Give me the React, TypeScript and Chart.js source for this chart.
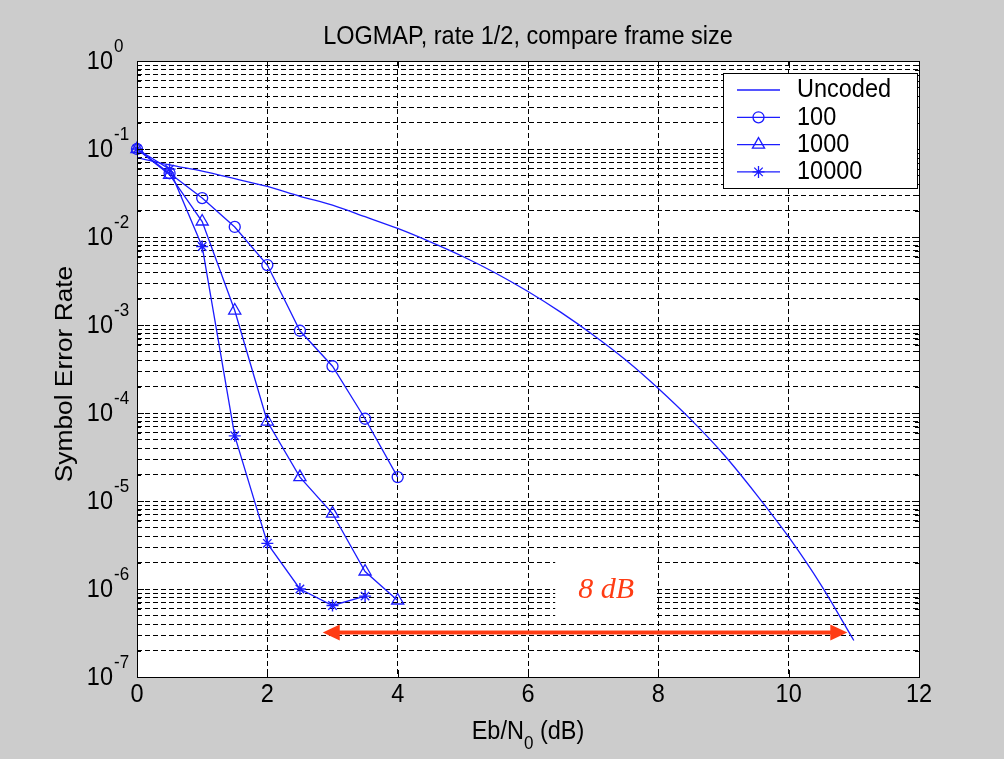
import React, { useEffect, useRef } from 'react';
import { Chart, registerables } from 'chart.js';

Chart.register(...registerables);

// ---------- data ----------
const TITLE = 'LOGMAP, rate 1/2, compare frame size';
const Y_TITLE = 'Symbol Error Rate';
const legendLabels = ['Uncoded', '100', '1000', '10000'];

const ebN0Uncoded = [0, 0.5, 1, 1.5, 2, 2.5, 3, 3.5, 4, 4.5, 5, 5.5, 6, 6.5, 7, 7.5, 8, 8.5, 9, 9.5, 10, 10.5, 11];
const serUncoded = [
  0.08, 0.066, 0.056, 0.046, 0.0375, 0.029, 0.023, 0.017, 0.0125, 0.0088, 0.006, 0.0039,
  0.0024, 0.0014, 0.00077, 0.0004, 0.00019, 0.000084, 0.000034, 0.000012, 0.0000039,
  0.0000011, 0.00000026,
];

const ebN0Frame100 = [0, 0.5, 1, 1.5, 2, 2.5, 3, 3.5, 4];
const ser100 = [0.1, 0.053, 0.0277, 0.013, 0.0048, 0.00086, 0.00034, 0.000086, 0.0000187];

const ebN0Frame1000 = [0, 0.5, 1, 1.5, 2, 2.5, 3, 3.5, 4];
const ser1000 = [0.1, 0.051, 0.015, 0.00146, 0.00008, 0.0000187, 0.0000072, 0.00000158, 0.00000074];

const ebN0Frame10000 = [0, 0.5, 1, 1.5, 2, 2.5, 3, 3.5];
const ser10000 = [0.1, 0.059, 0.0078, 0.000055, 0.0000033, 0.000001, 0.00000065, 0.00000083];

const xTickValues = [0, 2, 4, 6, 8, 10, 12];
const yExponents = [0, -1, -2, -3, -4, -5, -6, -7];

// annotation ("8 dB" gain arrow)
const gainLabel = '8 dB';
const arrowFromDb = 2.85;
const arrowToDb = 10.9;
const arrowSer = 3.2e-7;
const gainLabelDb = 7.2;
const gainLabelSer = 9.6e-7;

// ---------- styles ----------
const BLUE = '#1c1cff';
const RED = '#ff3c14';
const SANS = '"Liberation Sans", Arial, Helvetica, sans-serif';
const SERIF = '"Liberation Serif", "Times New Roman", serif';
const FS = 23.5;
const STRETCH = 1.12;

function drawText(
  ctx: CanvasRenderingContext2D,
  s: string,
  x: number,
  y: number,
  size: number,
  align: CanvasTextAlign = 'center',
  color = '#000',
  stretch = STRETCH,
  font = SANS,
  style = '',
) {
  ctx.save();
  ctx.translate(x, y);
  ctx.scale(1, stretch);
  ctx.font = `${style} ${size}px ${font}`;
  ctx.fillStyle = color;
  ctx.textAlign = align;
  ctx.textBaseline = 'middle';
  ctx.fillText(s, 0, 0);
  ctx.restore();
}

function drawMarker(ctx: CanvasRenderingContext2D, style: string, x: number, y: number, r: number) {
  ctx.beginPath();
  if (style === 'circle') {
    ctx.arc(x, y, r, 0, Math.PI * 2);
  } else if (style === 'triangle') {
    let a = 0;
    ctx.moveTo(x + Math.sin(a) * r, y - Math.cos(a) * r);
    a += (2 * Math.PI) / 3;
    ctx.lineTo(x + Math.sin(a) * r, y - Math.cos(a) * r);
    a += (2 * Math.PI) / 3;
    ctx.lineTo(x + Math.sin(a) * r, y - Math.cos(a) * r);
    ctx.closePath();
  } else if (style === 'star') {
    ctx.moveTo(x, y - r);
    ctx.lineTo(x, y + r);
    ctx.moveTo(x - r, y);
    ctx.lineTo(x + r, y);
    const d = r * Math.SQRT1_2;
    ctx.moveTo(x - d, y - d);
    ctx.lineTo(x + d, y + d);
    ctx.moveTo(x + d, y - d);
    ctx.lineTo(x - d, y + d);
  }
  ctx.stroke();
}

const decorPlugin = {
  id: 'decor',
  beforeDraw(chart: any) {
    const { ctx, chartArea: a } = chart;
    ctx.save();
    ctx.fillStyle = '#cccccc';
    ctx.fillRect(0, 0, chart.width, chart.height);
    ctx.fillStyle = '#ffffff';
    ctx.fillRect(a.left, a.top, a.right - a.left, a.bottom - a.top);
    ctx.restore();
  },
  beforeDatasetsDraw(chart: any) {
    const { ctx } = chart;
    const xs = chart.scales.x;
    const ys = chart.scales.y;
    // white box behind the gain label
    const lx = xs.getPixelForValue(gainLabelDb);
    const ly = ys.getPixelForValue(gainLabelSer);
    ctx.save();
    ctx.fillStyle = '#ffffff';
    ctx.fillRect(lx - 51, ly - 32, 101, 65);
    ctx.restore();
  },
  afterDraw(chart: any) {
    const { ctx, chartArea: a } = chart;
    const xs = chart.scales.x;
    const ys = chart.scales.y;
    ctx.save();

    // axes box
    ctx.strokeStyle = '#000';
    ctx.lineWidth = 1;
    ctx.setLineDash([]);
    ctx.strokeRect(Math.round(a.left) + 0.5, Math.round(a.top) + 0.5, Math.round(a.right - a.left), Math.round(a.bottom - a.top));

    // inner tick marks
    ctx.beginPath();
    for (const v of xTickValues) {
      const px = Math.round(xs.getPixelForValue(v)) + 0.5;
      ctx.moveTo(px, a.bottom);
      ctx.lineTo(px, a.bottom - 7);
      ctx.moveTo(px, a.top);
      ctx.lineTo(px, a.top + 7);
    }
    for (const e of yExponents) {
      for (let m = 1; m <= 9; m++) {
        const v = m * Math.pow(10, e);
        if (v > 1.0000001 || v < 0.99e-7) continue;
        const py = Math.round(ys.getPixelForValue(v)) + 0.5;
        const len = m === 1 ? 7 : 4;
        ctx.moveTo(a.left, py);
        ctx.lineTo(a.left + len, py);
        ctx.moveTo(a.right, py);
        ctx.lineTo(a.right - len, py);
      }
    }
    ctx.stroke();

    // y tick labels 10^e
    for (const e of yExponents) {
      const py = ys.getPixelForValue(Math.pow(10, e));
      drawText(ctx, '10', a.left - 24, py + 1, FS, 'right');
      drawText(ctx, String(e), a.left - 23, py - 14, 17, 'left');
    }
    // x tick labels
    for (const v of xTickValues) {
      drawText(ctx, String(v), xs.getPixelForValue(v), a.bottom + 18, FS, 'center');
    }

    // title
    const cx = (a.left + a.right) / 2;
    drawText(ctx, TITLE, cx, a.top - 24, FS, 'center');

    // x axis title: Eb/N0 (dB) with subscript
    const p1 = 'Eb/N';
    const p3 = ' (dB)';
    ctx.font = `${FS}px ${SANS}`;
    const w1 = ctx.measureText(p1).width;
    const w3 = ctx.measureText(p3).width;
    ctx.font = `17px ${SANS}`;
    const w2 = ctx.measureText('0').width;
    const total = w1 + w2 + w3;
    const sx = cx - total / 2;
    const ty = a.bottom + 55;
    drawText(ctx, p1, sx, ty, FS, 'left');
    drawText(ctx, '0', sx + w1, ty + 12, 17, 'left');
    drawText(ctx, p3, sx + w1 + w2, ty, FS, 'left');

    // y axis title (rotated)
    ctx.save();
    ctx.translate(66, (a.top + a.bottom) / 2 + 5);
    ctx.rotate(-Math.PI / 2);
    ctx.scale(STRETCH, 1);
    ctx.font = `${FS}px ${SANS}`;
    ctx.fillStyle = '#000';
    ctx.textAlign = 'center';
    ctx.textBaseline = 'middle';
    ctx.fillText(Y_TITLE, 0, 0);
    ctx.restore();

    // gain annotation arrow
    const ax1 = xs.getPixelForValue(arrowFromDb);
    const ax2 = xs.getPixelForValue(arrowToDb);
    const ay = ys.getPixelForValue(arrowSer);
    const head = 17;
    const hw = 8;
    ctx.strokeStyle = RED;
    ctx.fillStyle = RED;
    ctx.lineWidth = 4;
    ctx.beginPath();
    ctx.moveTo(ax1 + head - 2, ay);
    ctx.lineTo(ax2 - head + 2, ay);
    ctx.stroke();
    ctx.beginPath();
    ctx.moveTo(ax2, ay);
    ctx.lineTo(ax2 - head, ay - hw);
    ctx.lineTo(ax2 - head, ay + hw);
    ctx.closePath();
    ctx.fill();
    ctx.beginPath();
    ctx.moveTo(ax1, ay);
    ctx.lineTo(ax1 + head, ay - hw);
    ctx.lineTo(ax1 + head, ay + hw);
    ctx.closePath();
    ctx.fill();
    drawText(
      ctx,
      gainLabel,
      xs.getPixelForValue(gainLabelDb),
      ys.getPixelForValue(gainLabelSer),
      30,
      'center',
      RED,
      1,
      SERIF,
      'italic',
    );

    // legend
    const lx = 723;
    const lyTop = 73;
    const lw = 194;
    const lh = 115;
    ctx.fillStyle = '#ffffff';
    ctx.fillRect(lx, lyTop, lw, lh);
    ctx.strokeStyle = '#000';
    ctx.lineWidth = 1;
    ctx.strokeRect(lx + 0.5, lyTop + 0.5, lw, lh);
    const styles = ['none', 'circle', 'triangle', 'star'];
    const radii = [0, 5.5, 7, 6];
    for (let i = 0; i < legendLabels.length; i++) {
      const ry = lyTop + 17 + i * 27.3;
      ctx.strokeStyle = BLUE;
      ctx.lineWidth = 1.3;
      ctx.beginPath();
      ctx.moveTo(lx + 14, ry);
      ctx.lineTo(lx + 57, ry);
      ctx.stroke();
      if (styles[i] !== 'none') drawMarker(ctx, styles[i], lx + 35.5, ry, radii[i]);
      drawText(ctx, legendLabels[i], lx + 74, ry, FS, 'left');
    }
    ctx.restore();
  },
};

const toPts = (xs: number[], ys: number[]) => xs.map((x, i) => ({ x, y: ys[i] }));

export default function App() {
  const ref = useRef<HTMLCanvasElement | null>(null);

  useEffect(() => {
    document.body.style.margin = '0';
    const canvas = ref.current;
    if (!canvas) return;
    const chart = new Chart(canvas, {
      type: 'line',
      data: {
        datasets: [
          {
            label: legendLabels[0],
            data: toPts(ebN0Uncoded, serUncoded),
            borderColor: BLUE,
            borderWidth: 1.3,
            pointRadius: 0,
            cubicInterpolationMode: 'monotone',
            clip: 12,
          },
          {
            label: legendLabels[1],
            data: toPts(ebN0Frame100, ser100),
            borderColor: BLUE,
            borderWidth: 1.3,
            pointStyle: 'circle',
            pointRadius: 5.5,
            pointBorderWidth: 1.3,
            pointBorderColor: BLUE,
            pointBackgroundColor: 'rgba(0,0,0,0)',
            tension: 0,
            clip: 12,
          },
          {
            label: legendLabels[2],
            data: toPts(ebN0Frame1000, ser1000),
            borderColor: BLUE,
            borderWidth: 1.3,
            pointStyle: 'triangle',
            pointRadius: 7,
            pointBorderWidth: 1.3,
            pointBorderColor: BLUE,
            pointBackgroundColor: 'rgba(0,0,0,0)',
            tension: 0,
            clip: 12,
          },
          {
            label: legendLabels[3],
            data: toPts(ebN0Frame10000, ser10000),
            borderColor: BLUE,
            borderWidth: 1.3,
            pointStyle: 'star',
            pointRadius: 6,
            pointBorderWidth: 1.4,
            pointBorderColor: BLUE,
            pointBackgroundColor: 'rgba(0,0,0,0)',
            tension: 0,
            clip: 12,
          },
        ],
      },
      options: {
        responsive: false,
        animation: false,
        devicePixelRatio: 1,
        layout: { padding: { left: 0, right: 85, top: 61, bottom: 0 } },
        plugins: { legend: { display: false }, title: { display: false }, tooltip: { enabled: false } },
        events: [],
        scales: {
          x: {
            type: 'linear',
            min: 0,
            max: 12,
            ticks: { display: false, stepSize: 2 },
            afterBuildTicks: (scale: any) => {
              scale.ticks = xTickValues.map((v) => ({ value: v }));
            },
            afterFit: (scale: any) => {
              scale.height = 82;
            },
            grid: { color: '#000', lineWidth: 1, drawTicks: false },
            border: { display: false, dash: [5, 3] },
          },
          y: {
            type: 'logarithmic',
            min: 1e-7,
            max: 1,
            ticks: { display: false },
            afterBuildTicks: (scale: any) => {
              const t: { value: number }[] = [];
              for (let e = -7; e < 0; e++) {
                for (let m = 1; m <= 9; m++) t.push({ value: m * Math.pow(10, e) });
              }
              t.push({ value: 1 });
              scale.ticks = t;
            },
            afterFit: (scale: any) => {
              scale.width = 137;
            },
            grid: { color: '#000', lineWidth: 1, drawTicks: false },
            border: { display: false, dash: [5, 3] },
          },
        },
      } as any,
      plugins: [decorPlugin],
    });
    return () => chart.destroy();
  }, []);

  return (
    <div style={{ width: 1004, height: 759 }}>
      <canvas ref={ref} width={1004} height={759} style={{ display: 'block' }} />
    </div>
  );
}
